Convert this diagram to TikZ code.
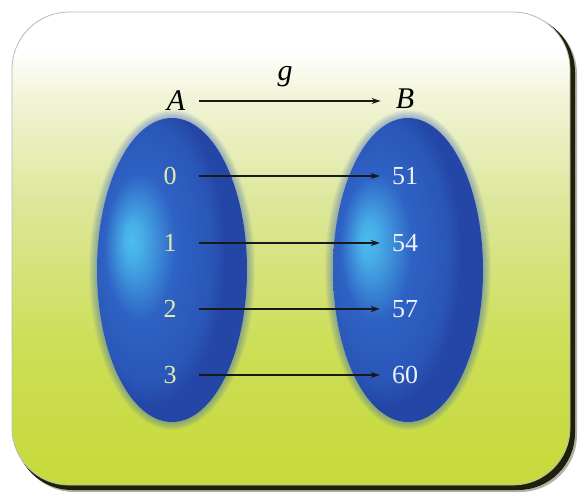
\documentclass[tikz,border=0pt]{standalone}
\usepackage{fontspec}
\usetikzlibrary{arrows.meta}
\setmainfont{Liberation Serif}
\definecolor{bgbottom}{HTML}{C6DA3A}
\definecolor{bgmid}{HTML}{DDE79A}
\definecolor{bglight}{HTML}{F2F4D8}
\definecolor{blobhl}{HTML}{4CBCEE}
\definecolor{blobmid}{HTML}{2E62C4}
\definecolor{blobedge}{HTML}{2446A6}
\definecolor{glowcol}{HTML}{2E5CC0}
\definecolor{leftnum}{HTML}{E4EAA8}
\definecolor{rightnum}{HTML}{EEF2FA}
\definecolor{shadowcol}{HTML}{1E2008}
\pgfdeclareverticalshading{bgshade}{100bp}{color(0bp)=(bgbottom); color(25bp)=(bgbottom); color(40bp)=(bgbottom!70!bgmid); color(55bp)=(bgmid); color(66bp)=(bglight); color(71bp)=(white); color(100bp)=(white)}
\pgfdeclareradialshading{blobshade}{\pgfpoint{-14bp}{5bp}}{color(0bp)=(blobhl); color(3bp)=(blobhl!85!blobmid); color(12bp)=(blobmid); color(21bp)=(blobmid!60!blobedge); color(25bp)=(blobedge); color(50bp)=(blobedge)}
\begin{document}
\begin{tikzpicture}[x=1pt,y=-1pt,
  setlabel/.style={font=\fontsize{30}{30}\selectfont\itshape, inner sep=2pt},
  numL/.style={font=\fontsize{26}{26}\selectfont, text=leftnum, inner sep=2pt},
  numR/.style={font=\fontsize{26}{26}\selectfont, text=rightnum, inner sep=2pt},
  maparrow/.style={-{Stealth[length=9pt,width=6pt]}, line width=1.4pt, black!90},
  blob/.style={shading=blobshade}]
\useasboundingbox (0,0) rectangle (580,495);
% shadow
\fill[shadowcol, opacity=0.35, rounded corners=57pt] (17,17) rectangle (577,492);
\fill[shadowcol, rounded corners=57pt] (15,15) rectangle (575,490);
% main box
\shade[shading=bgshade, rounded corners=57pt] (12,12) rectangle (570,485);
\draw[gray!55, line width=0.8pt, rounded corners=57pt] (12,12) rectangle (570,485);
% glows
\foreach \cx in {172,408}{
  \foreach \i in {1,...,8}{
    \fill[glowcol, opacity=0.06] (\cx,270) ellipse [x radius=75pt+\i pt, y radius=152pt+\i pt];
  }
  \shade[blob] (\cx,270) ellipse [x radius=75pt, y radius=152pt];
}
% labels
\node[setlabel] (A) at (176,101) {A};
\node[setlabel] (B) at (405,99) {B};
\node[setlabel] (g) at (285,77) {g};
\draw[maparrow, shorten <=12pt, shorten >=13pt] (A.east) -- (B.west |- A.east);
% elements
\node[numL] (a0) at (170,176) {0};
\node[numL] (a1) at (170,243) {1};
\node[numL] (a2) at (170,309) {2};
\node[numL] (a3) at (170,375) {3};
\node[numR] (b0) at (405,176) {51};
\node[numR] (b1) at (405,243) {54};
\node[numR] (b2) at (405,309) {57};
\node[numR] (b3) at (405,375) {60};
\foreach \i in {0,...,3}{
  \draw[maparrow, shorten <=20pt, shorten >=10pt] (a\i.east) -- (b\i.west);
}
\end{tikzpicture}
\end{document}
